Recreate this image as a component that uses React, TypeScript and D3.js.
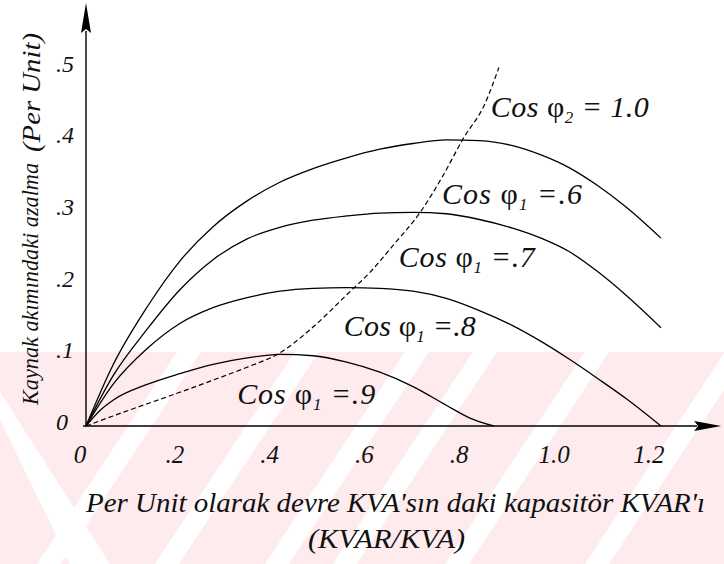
import React from "react";
import * as d3 from "d3";

// ---- data ----
const xTicks = [0, 0.2, 0.4, 0.6, 0.8, 1.0, 1.2];
const xTickLabels = ["0", ".2", ".4", ".6", ".8", "1.0", "1.2"];
const yTicks = [0, 0.1, 0.2, 0.3, 0.4, 0.5];
const yTickLabels = ["0", ".1", ".2", ".3", ".4", ".5"];

const cos06: [number, number][] = [
  [0, 0], [0.057, 0.085], [0.129, 0.166], [0.198, 0.23], [0.268, 0.278], [0.34, 0.314],
  [0.409, 0.34], [0.479, 0.359], [0.55, 0.374], [0.62, 0.386], [0.69, 0.394], [0.76, 0.399],
  [0.83, 0.398], [0.9, 0.391], [0.96, 0.378], [1.02, 0.36], [1.08, 0.335], [1.14, 0.305], [1.213, 0.262],
];
const cos07: [number, number][] = [
  [0, 0], [0.057, 0.07], [0.129, 0.135], [0.198, 0.19], [0.268, 0.232], [0.34, 0.261],
  [0.409, 0.277], [0.479, 0.287], [0.55, 0.293], [0.62, 0.297], [0.69, 0.298], [0.76, 0.296],
  [0.83, 0.288], [0.9, 0.276], [0.96, 0.262], [1.02, 0.243], [1.08, 0.215], [1.14, 0.182], [1.213, 0.137],
];
const cos08: [number, number][] = [
  [0, 0], [0.057, 0.058], [0.129, 0.108], [0.198, 0.143], [0.268, 0.165], [0.34, 0.179],
  [0.409, 0.188], [0.479, 0.192], [0.55, 0.193], [0.62, 0.192], [0.69, 0.188], [0.76, 0.178],
  [0.83, 0.161], [0.9, 0.14], [0.96, 0.118], [1.02, 0.093], [1.08, 0.066], [1.14, 0.038], [1.213, 0],
];
const cos09: [number, number][] = [
  [0, 0], [0.03, 0.022], [0.057, 0.036], [0.129, 0.058], [0.198, 0.073], [0.268, 0.086], [0.34, 0.095],
  [0.409, 0.1], [0.479, 0.098], [0.55, 0.089], [0.62, 0.075], [0.69, 0.055], [0.76, 0.029],
  [0.81, 0.011], [0.86, 0],
];
const cos10Dashed: [number, number][] = [
  [0, 0], [0.057, 0.014], [0.129, 0.031], [0.198, 0.047], [0.268, 0.064], [0.34, 0.082],
  [0.409, 0.102], [0.479, 0.138], [0.55, 0.183], [0.6, 0.215], [0.648, 0.252], [0.705, 0.298],
  [0.753, 0.349], [0.795, 0.4], [0.842, 0.45], [0.871, 0.5],
];

const curveLabels = [
  { sub: "1", rest: " =.6", at: [0.751, 0.31] as [number, number], len: 140 },
  { sub: "1", rest: " =.7", at: [0.66, 0.222] as [number, number], len: 136 },
  { sub: "1", rest: " =.8", at: [0.544, 0.126] as [number, number], len: 132 },
  { sub: "1", rest: " =.9", at: [0.319, 0.031] as [number, number], len: 138 },
  { sub: "2", rest: " = 1.0", at: [0.854, 0.431] as [number, number], len: 158 },
];

const xTitle = "Per Unit olarak devre KVA'sın daki kapasitör KVAR'ı";
const xTitle2 = "(KVAR/KVA)";
const yTitleA = "Kaynak akımındaki azalma";
const yTitleB = "(Per Unit)";

const W = 724;
const H = 564;

// watermark stripes (x position at axis level)
const stripeCenters = [140, 258, 368, 436, 548, 688];

export default function App() {
  const x = d3.scaleLinear().domain([0, 1.2]).range([86, 86 + 1.2 * 474]);
  const y = d3.scaleLinear().domain([0, 0.5]).range([426, 426 - 0.5 * 717]);
  const line = d3
    .line<[number, number]>()
    .x((d) => x(d[0]))
    .y((d) => y(d[1]))
    .curve(d3.curveMonotoneX);

  const solid = [cos06, cos07, cos08, cos09];
  const x0 = x(0);
  const y0 = y(0);
  const yTop = y(0.59);
  const xEnd = x(1.34);

  const slope = 0.66;
  const stripe = (xc: number, w: number) => {
    const t = 352, b = H;
    const xt = xc + slope * (426 - t);
    const xb = xc - slope * (b - 426);
    return `M${xt - w},${t}L${xt + w},${t}L${xb + w},${b}L${xb - w},${b}Z`;
  };

  const it = (extra?: any) => ({ fontFamily: '"Liberation Serif"', fontStyle: "italic", ...(extra || {}) });

  return (
    <svg width={W} height={H} style={{ position: "absolute", left: 0, top: 0, background: "#fff" }}>
      {/* watermark */}
      <g>
        <rect x={0} y={352} width={W} height={H - 352} fill="#fdebee" />
        {stripeCenters.map((c, i) => (
          <path key={i} d={stripe(c, 12)} fill="#fff" />
        ))}
        <path d={`M0,392L0,420L70,${H}L110,${H}Z`} fill="#fff" />
      </g>

      {/* axes */}
      <line x1={x0} y1={y0} x2={x0} y2={yTop + 28} stroke="#000" strokeWidth={1.4} />
      <path d={`M${x0 - 5},${yTop + 30}L${x0},${yTop}L${x0 + 5},${yTop + 30}L${x0},${yTop + 26}Z`} fill="#000" />
      <line x1={x0 - 3} y1={y0} x2={xEnd - 24} y2={y0} stroke="#000" strokeWidth={1.4} />
      <path d={`M${xEnd - 27},${y0 - 5}L${xEnd},${y0}L${xEnd - 27},${y0 + 5}L${xEnd - 23},${y0}Z`} fill="#000" />

      {/* curves */}
      {solid.map((c, i) => (
        <path key={i} d={line(c) || ""} fill="none" stroke="#000" strokeWidth={1.3} />
      ))}
      <path d={line(cos10Dashed) || ""} fill="none" stroke="#000" strokeWidth={1.2} strokeDasharray="5 3" />

      {/* tick labels */}
      {xTicks.map((v, i) => (
        <text key={"x" + i} x={x(v) - 6} y={463} fontSize={25} textAnchor="middle" fill="#111" style={it()}>
          {xTickLabels[i]}
        </text>
      ))}
      {yTicks.map((v, i) => (
        <text key={"y" + i} x={56} y={y(v) + 4} fontSize={24} fill="#111" style={it()}>
          {yTickLabels[i]}
        </text>
      ))}

      {/* curve labels */}
      {curveLabels.map((l, i) => (
        <text
          key={"c" + i}
          x={x(l.at[0])}
          y={y(l.at[1])}
          fontSize={30}
          fill="#111"
          textLength={l.len}
          lengthAdjust="spacing"
          style={{ fontFamily: '"Liberation Serif"', whiteSpace: "pre" }}
        >
          <tspan style={{ fontStyle: "italic" }}>{"Cos "}</tspan>
          <tspan>φ</tspan>
          <tspan style={{ fontStyle: "italic" }} fontSize={17} dy={6}>{l.sub}</tspan>
          <tspan style={{ fontStyle: "italic" }} dy={-6}>{l.rest}</tspan>
        </text>
      ))}

      {/* axis titles */}
      <text x={86} y={512} fontSize={28} fill="#111" textLength={619} lengthAdjust="spacingAndGlyphs" style={it()}>
        {xTitle}
      </text>
      <text x={308} y={548} fontSize={28} fill="#111" textLength={157} lengthAdjust="spacingAndGlyphs" style={it()}>
        {xTitle2}
      </text>
      <text
        transform="translate(38,405) rotate(-90)"
        fontSize={24}
        fill="#111"
        textLength={242}
        lengthAdjust="spacingAndGlyphs"
        style={it()}
      >
        {yTitleA}
      </text>
      <text
        transform="translate(40,152) rotate(-90)"
        fontSize={25}
        fill="#111"
        textLength={119}
        lengthAdjust="spacingAndGlyphs"
        style={it()}
      >
        {yTitleB}
      </text>
    </svg>
  );
}
